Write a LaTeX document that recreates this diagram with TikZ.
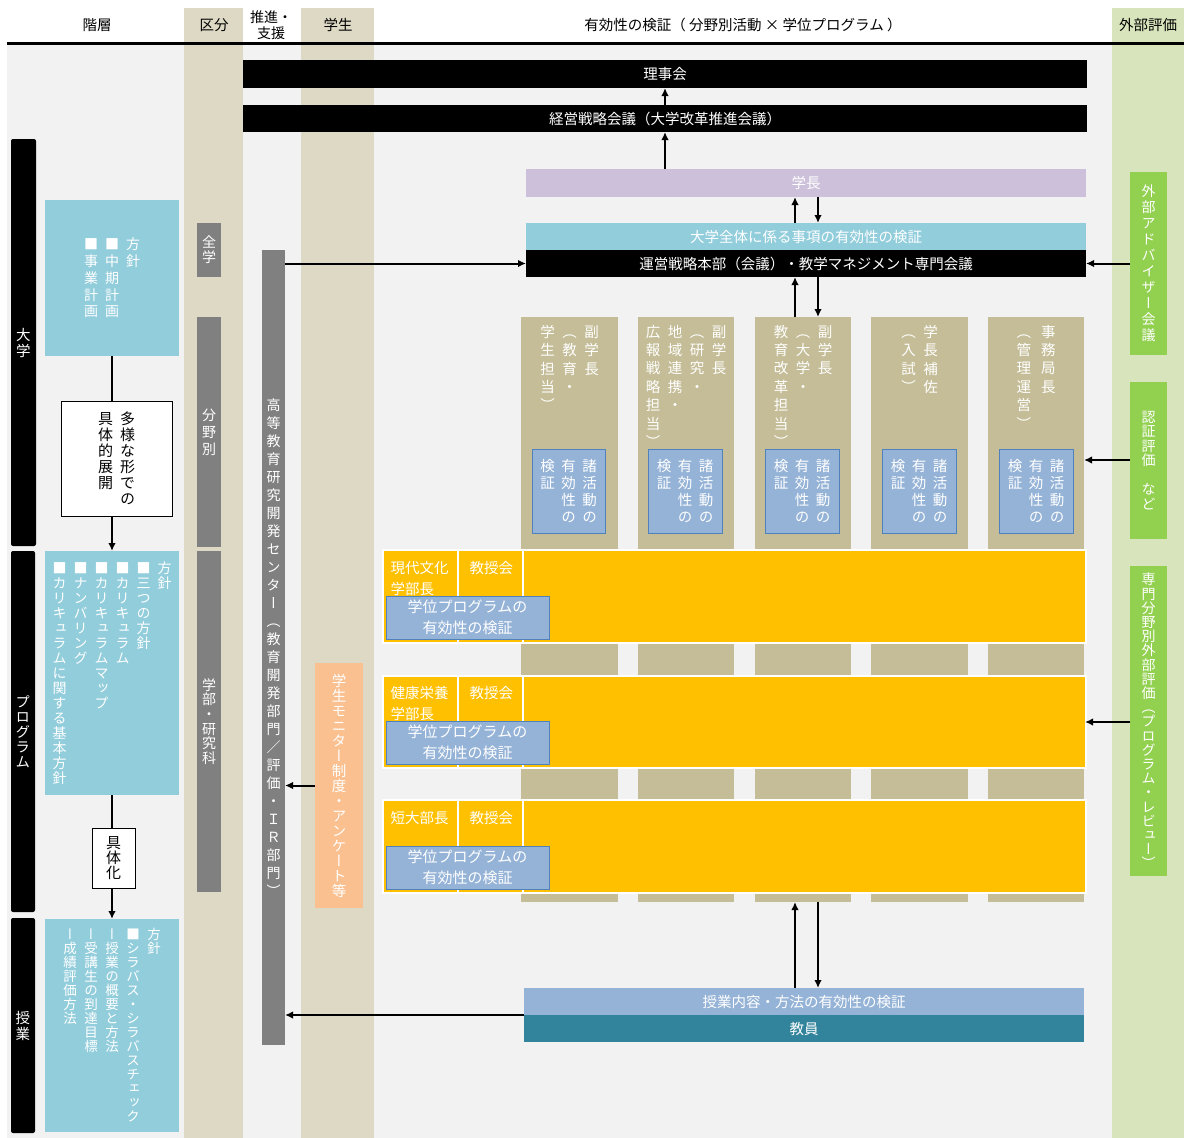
\documentclass[tikz,border=0pt]{standalone}
\usepackage{fontspec}
\setmainfont{Noto Sans CJK JP}
\newfontfamily\vjp[RawFeature=+vert]{Noto Sans CJK JP}
\usetikzlibrary{arrows.meta}
\definecolor{bgray}{HTML}{F2F2F2}
\definecolor{tanband}{HTML}{DDD9C4}
\definecolor{greenband}{HTML}{D8E4BC}
\definecolor{midgray}{HTML}{808080}
\definecolor{lblue}{HTML}{92CDDC}
\definecolor{lav}{HTML}{CCC0DA}
\definecolor{vtan}{HTML}{C4BD97}
\definecolor{sblue}{HTML}{95B3D7}
\definecolor{sbord}{HTML}{4F81BD}
\definecolor{yel}{HTML}{FFC000}
\definecolor{ora}{HTML}{FAC090}
\definecolor{grn}{HTML}{92D050}
\definecolor{tealb}{HTML}{31849B}
\makeatletter
\def\vc@end{\vc@end}
\newcommand\vcol[1]{\vtop{\vc@i#1\vc@end}}
\def\vc@i#1{\ifx#1\vc@end\else\hbox to 1em{\hss#1\hss}\expandafter\vc@i\fi}
\makeatother
\newcommand\mbx[7]{\node[base,#2,minimum width={(#5-#3)*1pt},minimum height={(#6-#4)*1pt}] (#1) at ({(#3+#5)/2},{(#4+#6)/2}) {#7};}
\newcommand\SKT{\vcol{検証}\hskip6.5pt\vcol{有効性の}\hskip6.5pt\vcol{諸活動の}}
\begin{document}
\begin{tikzpicture}[x=1pt,y=-1pt,
  base/.style={inner sep=0pt,outer sep=0pt},
  hb/.style={font=\fontsize{14.5}{17}\selectfont},
  vt/.style 2 args={font=\vjp\fontsize{#1}{#2}\selectfont},
  arr/.style={-{Latex[length=8pt,width=7.5pt]},line width=2pt},
  ln/.style={line width=2pt},
  blk/.style={fill=black,text=white},
  sb/.style={fill=sblue,draw=sbord,line width=0.8pt,text=white},
  gp/.style={fill=midgray,text=white,vt={14}{#1}},
  gp/.default=16,
  wt/.style={text=white,hb}]
\useasboundingbox (0,0) rectangle (1184,1138);
% backgrounds
\fill[white] (0,0) rectangle (1184,1138);
\fill[bgray] (7,45) rectangle (1184,1138);
\fill[tanband] (184,8) rectangle (243,1138);
\fill[tanband] (301,8) rectangle (374,1138);
\fill[greenband] (1112,8) rectangle (1184,1138);
\draw[line width=2.5pt] (7,43.5) -- (1184,43.5);
% header
\node[hb] (hA) at (97,25) {階層};
\node[hb] (hB) at (214,25) {区分};
\node[align=center,font=\fontsize{14}{16}\selectfont] (hC) at (271,25) {推進・\\支援};
\node[hb] (hD) at (338,25) {学生};
\node[hb] (hE) at (743,25) {有効性の検証（ 分野別活動 × 学位プログラム ）};
\node[hb] (hF) at (1148,25) {外部評価};
% level bars
\mbx{lv1}{blk,rounded corners=2pt,vt={14.5}{16}}{11}{139}{36}{546}{\vcol{大学}}
\mbx{lv2}{blk,rounded corners=2pt,vt={14.5}{15}}{11}{551}{35}{912}{\vcol{プログラム}}
\mbx{lv3}{blk,rounded corners=2pt,vt={14.5}{16}}{11}{918}{35}{1133}{\vcol{授業}}
% plan boxes
\mbx{plan1}{fill=lblue,text=white,vt={14}{16.7}}{45}{200}{179}{356}{\vcol{■事業計画}\hskip7pt\vcol{■中期計画}\hskip7pt\vcol{方針}}
\mbx{plan2}{fill=lblue,text=white,vt={14}{15}}{45}{551}{179}{795}{\vcol{■カリキュラムに関する基本方針}\hskip7pt\vcol{■ナンバリング}\hskip7pt\vcol{■カリキュラムマップ}\hskip7pt\vcol{■カリキュラム}\hskip7pt\vcol{■三つの方針}\hskip7pt\vcol{方針}}
\mbx{plan3}{fill=lblue,text=white,vt={13.5}{14}}{45}{919}{179}{1132}{\vcol{ー成績評価方法}\hskip7.5pt\vcol{ー受講生の到達目標}\hskip7.5pt\vcol{ー授業の概要と方法}\hskip7.5pt\vcol{■シラバス・シラバスチェック}\hskip7.5pt\vcol{方針}}
\mbx{tayou}{fill=white,draw=black,line width=0.8pt,vt={15}{16}}{61}{401}{172}{516}{\vcol{具体的展開}\hskip7pt\vcol{多様な形での}}
\mbx{gutai}{fill=white,draw=black,line width=0.8pt,vt={15}{15}}{92}{828}{135}{888}{\vcol{具体化}}
% kubun
\mbx{zengaku}{gp=15}{197}{223}{221}{277}{\vcol{全学}}
\mbx{bunya}{gp=17}{197}{317}{221}{547}{\vcol{分野別}}
\mbx{gakubu}{gp=14.6}{197}{551}{221}{892}{\vcol{学部・研究科}}
% IR center
\mbx{ira}{gp=18}{262}{250}{285}{1045}{\vcol{高等教育研究開発センター（教育開発部門／評価・ＩＲ部門）}}
% student monitor
\mbx{monitor}{fill=ora,text=white,vt={14.5}{15}}{315}{663}{363}{908}{\vcol{学生モニター制度・アンケート等}}
% top boxes
\mbx{rijikai}{blk,hb}{243}{60}{1087}{88}{理事会}
\mbx{keiei}{blk,hb}{243}{105}{1087}{132}{経営戦略会議（大学改革推進会議）}
\mbx{gakucho}{fill=lav,wt}{526}{169}{1086}{197}{学長}
\mbx{zentai}{fill=lblue,wt}{526}{223}{1086}{250}{大学全体に係る事項の有効性の検証}
\mbx{unei}{blk,hb}{526}{250}{1086}{277}{運営戦略本部（会議）・教学マネジメント専門会議}
% columns
\mbx{col1}{fill=vtan}{521}{317}{618}{902}{}
\mbx{col2}{fill=vtan}{638}{317}{734}{902}{}
\mbx{col3}{fill=vtan}{755}{317}{851}{902}{}
\mbx{col4}{fill=vtan}{871}{317}{968}{902}{}
\mbx{col5}{fill=vtan}{988}{317}{1084}{902}{}
\node[base,text=white,vt={14.5}{18.4},anchor=north] (t1) at (569.5,325) {\vcol{学生担当）}\hskip7.5pt\vcol{（教育・}\hskip7.5pt\vcol{副学長}};
\node[base,text=white,vt={14.5}{18.4},anchor=north] (t2) at (686,325) {\vcol{広報戦略担当）}\hskip7.5pt\vcol{地域連携・}\hskip7.5pt\vcol{（研究・}\hskip7.5pt\vcol{副学長}};
\node[base,text=white,vt={14.5}{18.4},anchor=north] (t3) at (803,325) {\vcol{教育改革担当）}\hskip7.5pt\vcol{（大学・}\hskip7.5pt\vcol{副学長}};
\node[base,text=white,vt={14.5}{18.4},anchor=north] (t4) at (919.5,325) {\vcol{（入試）}\hskip7.5pt\vcol{学長補佐}};
\node[base,text=white,vt={14.5}{18.4},anchor=north] (t5) at (1036,325) {\vcol{（管理運営）}\hskip10pt\vcol{事務局長}};
\mbx{b1}{sb,vt={14.5}{17.2}}{532}{449}{605}{533}{\SKT}
\mbx{b2}{sb,vt={14.5}{17.2}}{648}{449}{722}{533}{\SKT}
\mbx{b3}{sb,vt={14.5}{17.2}}{765}{449}{839}{533}{\SKT}
\mbx{b4}{sb,vt={14.5}{17.2}}{882}{449}{956}{533}{\SKT}
\mbx{b5}{sb,vt={14.5}{17.2}}{999}{449}{1073}{533}{\SKT}
% program rows
\mbx{f1}{fill=white}{382}{549}{1087}{644}{}
\mbx{y1a}{fill=yel}{384}{551}{457}{642}{}
\mbx{y1b}{fill=yel}{459}{551}{522}{642}{}
\mbx{y1c}{fill=yel}{524}{551}{1085}{642}{}
\node[wt,anchor=base west] (r1a) at (387,573) {現代文化};
\node[wt,anchor=base west] (r1b) at (387,594) {学部長};
\node[wt,anchor=base west] (r1c) at (466,573) {教授会};
\mbx{p1}{sb,hb,align=center,font=\fontsize{15}{21}\selectfont}{386}{596}{549}{639}{学位プログラムの\\有効性の検証}
\mbx{f2}{fill=white}{382}{675}{1087}{769}{}
\mbx{y2a}{fill=yel}{384}{677}{457}{767}{}
\mbx{y2b}{fill=yel}{459}{677}{522}{767}{}
\mbx{y2c}{fill=yel}{524}{677}{1085}{767}{}
\node[wt,anchor=base west] (r2a) at (387,698) {健康栄養};
\node[wt,anchor=base west] (r2b) at (387,719) {学部長};
\node[wt,anchor=base west] (r2c) at (466,698) {教授会};
\mbx{p2}{sb,hb,align=center,font=\fontsize{15}{21}\selectfont}{386}{721}{549}{764}{学位プログラムの\\有効性の検証}
\mbx{f3}{fill=white}{382}{799}{1087}{894}{}
\mbx{y3a}{fill=yel}{384}{801}{457}{892}{}
\mbx{y3b}{fill=yel}{459}{801}{522}{892}{}
\mbx{y3c}{fill=yel}{524}{801}{1085}{892}{}
\node[wt,anchor=base west] (r3a) at (387,823) {短大部長};
\node[wt,anchor=base west] (r3c) at (466,823) {教授会};
\mbx{p3}{sb,hb,align=center,font=\fontsize{15}{21}\selectfont}{386}{846}{549}{889}{学位プログラムの\\有効性の検証}
% bottom
\mbx{jugyo}{fill=sblue,wt}{524}{988}{1084}{1015}{授業内容・方法の有効性の検証}
\mbx{kyoin}{fill=tealb,wt}{524}{1015}{1084}{1042}{教員}
% external
\mbx{advisor}{fill=grn,text=white,vt={14}{16}}{1130}{172}{1167}{355}{\vcol{外部アドバイザー会議}}
\mbx{ninsho}{fill=grn,text=white,vt={14}{14.5}}{1130}{382}{1167}{539}{\vcol{認証評価　など}}
\mbx{senmon}{fill=grn,text=white,vt={14}{14.2}}{1130}{566}{1167}{876}{\vcol{専門分野別外部評価（プログラム・レビュー）}}
% connectors
\coordinate (ux) at (795,0);
\coordinate (dx) at (818,0);
\coordinate (nin) at (1130,460);
\draw[arr] (keiei.north) -- (rijikai.south);
\draw[arr] (gakucho.north -| keiei.north) -- (keiei.south);
\draw[arr] (zentai.north -| ux) -- (gakucho.south -| ux);
\draw[arr] (gakucho.south -| dx) -- (zentai.north -| dx);
\draw[arr] (col3.north -| ux) -- (unei.south -| ux);
\draw[arr] (unei.south -| dx) -- (col3.north -| dx);
\draw[arr] (jugyo.north -| ux) -- (col3.south -| ux);
\draw[arr] (col3.south -| dx) -- (jugyo.north -| dx);
\draw[arr] (ira.east |- unei.west) -- (unei.west);
\draw[arr] (advisor.west |- unei.east) -- (unei.east);
\draw[arr] (ninsho.west |- nin) -- (col5.east |- nin);
\draw[arr] (senmon.west |- y2c.east) -- (y2c.east);
\draw[arr] (monitor.west) -- (ira.east |- monitor.west);
\draw[arr] (kyoin.north west) -- (ira.east |- kyoin.north west);
\draw[ln] (plan1.south) -- (plan1.south |- tayou.north);
\draw[arr] (plan1.south |- tayou.south) -- (plan2.north);
\draw[ln] (plan2.south) -- (plan2.south |- gutai.north);
\draw[arr] (plan2.south |- gutai.south) -- (plan3.north);
\end{tikzpicture}
\end{document}
